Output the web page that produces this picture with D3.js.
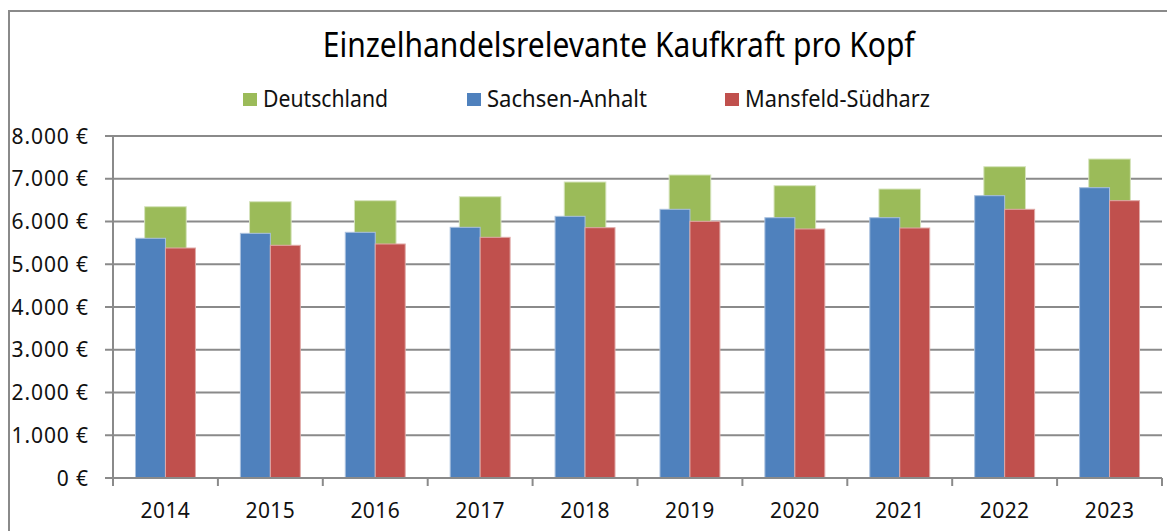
<!DOCTYPE html>
<html>
<head>
<meta charset="utf-8">
<script src="https://cdn.jsdelivr.net/npm/d3@7"></script>
<style>
  body { margin: 0; background: #fff; }
  svg { display: block; font-family: "Noto Sans", sans-serif; }
</style>
</head>
<body>
<div id="chart"></div>
<script>
// data
const years = ["2014", "2015", "2016", "2017", "2018", "2019", "2020", "2021", "2022", "2023"];
const deutschland = [6346, 6463, 6487, 6580, 6924, 7088, 6838, 6760, 7282, 7462];
const sachsenAnhalt = [5607, 5723, 5747, 5864, 6121, 6285, 6089, 6089, 6604, 6791];
const mansfeldSuedharz = [5380, 5443, 5474, 5630, 5855, 6004, 5825, 5848, 6285, 6487];
const yTicks = [0, 1000, 2000, 3000, 4000, 5000, 6000, 7000, 8000];
const seriesNames = ["Deutschland", "Sachsen-Anhalt", "Mansfeld-Südharz"];
const seriesColors = ["#9BBB59", "#4F81BD", "#C0504D"];

const width = 1167, height = 531;
const plot = { left: 113, right: 1162, top: 136, bottom: 478 };

const svg = d3.select("#chart").append("svg")
    .attr("width", width)
    .attr("height", height);

// outer frame (runs off the right and bottom edge)
svg.append("rect")
    .attr("x", 9).attr("y", 11)
    .attr("width", 1300).attr("height", 700)
    .attr("fill", "none")
    .attr("stroke", "#8a8a8a")
    .attr("stroke-width", 2);

const x = d3.scaleBand().domain(years).range([plot.left, plot.right]);
const xInner = d3.scaleBand().domain(["SA", "MS"]).range([0, x.bandwidth()]).paddingOuter(0.75);
const xBack = d3.scaleBand().domain(["DE"]).range([0, x.bandwidth()]).paddingOuter(0.76);
const y = d3.scaleLinear().domain([0, 8000]).range([plot.bottom, plot.top]);

// gridlines
svg.append("g")
    .selectAll("line")
    .data(yTicks)
    .enter().append("line")
    .attr("x1", plot.left - 8)
    .attr("x2", plot.right)
    .attr("y1", d => y(d))
    .attr("y2", d => y(d))
    .attr("stroke", "#8a8a8a")
    .attr("stroke-width", 2);

// y labels
svg.append("g")
    .selectAll("text")
    .data(yTicks)
    .enter().append("text")
    .attr("x", 89)
    .attr("y", d => y(d))
    .attr("dy", "0.36em")
    .attr("text-anchor", "end")
    .attr("font-size", 21)
    .attr("letter-spacing", 0.9)
    .attr("fill", "#111")
    .text(d => (d === 0 ? "0" : d3.format(",")(d).replace(",", ".")) + " €");

// Deutschland bars, behind
svg.append("g")
    .selectAll("rect")
    .data(deutschland)
    .enter().append("rect")
    .attr("x", (d, i) => x(years[i]) + xBack("DE"))
    .attr("y", d => y(d))
    .attr("width", xBack.bandwidth())
    .attr("height", d => y(0) - y(d))
    .attr("fill", seriesColors[0])
    .attr("stroke", "#d6e4bd")
    .attr("stroke-width", 1);

// Sachsen-Anhalt and Mansfeld-Südharz bars
const front = [
    { key: "SA", values: sachsenAnhalt, color: seriesColors[1], edge: "#a9c0de" },
    { key: "MS", values: mansfeldSuedharz, color: seriesColors[2], edge: "#e0a9a7" }
];
front.forEach(s => {
    svg.append("g")
        .selectAll("rect")
        .data(s.values)
        .enter().append("rect")
        .attr("x", (d, i) => x(years[i]) + xInner(s.key))
        .attr("y", d => y(d))
        .attr("width", xInner.bandwidth())
        .attr("height", d => y(0) - y(d))
        .attr("fill", s.color)
        .attr("stroke", s.edge)
        .attr("stroke-width", 1);
});

// axes lines
svg.append("line")
    .attr("x1", plot.left).attr("x2", plot.left)
    .attr("y1", plot.top).attr("y2", plot.bottom + 8)
    .attr("stroke", "#8a8a8a").attr("stroke-width", 2);
svg.append("line")
    .attr("x1", plot.left).attr("x2", plot.right)
    .attr("y1", plot.bottom).attr("y2", plot.bottom)
    .attr("stroke", "#8a8a8a").attr("stroke-width", 2);

// x ticks at category boundaries
svg.append("g")
    .selectAll("line")
    .data(years.concat(["end"]))
    .enter().append("line")
    .attr("x1", (d, i) => i < years.length ? x(d) : plot.right)
    .attr("x2", (d, i) => i < years.length ? x(d) : plot.right)
    .attr("y1", plot.bottom)
    .attr("y2", plot.bottom + 8)
    .attr("stroke", "#8a8a8a").attr("stroke-width", 2);

// x labels
svg.append("g")
    .selectAll("text")
    .data(years)
    .enter().append("text")
    .attr("x", d => x(d) + x.bandwidth() / 2)
    .attr("y", 518)
    .attr("text-anchor", "middle")
    .attr("font-size", 21)
    .attr("letter-spacing", 0.4)
    .attr("fill", "#111")
    .text(d => d);

// title
svg.append("text")
    .attr("x", 322.7)
    .attr("y", 56.7)
    .attr("font-size", 35)
    .attr("fill", "#000")
    .attr("textLength", 592)
    .attr("lengthAdjust", "spacingAndGlyphs")
    .text("Einzelhandelsrelevante Kaufkraft pro Kopf");

// legend
const legendPos = [
    { sx: 243, tx: 263, tw: 125 },
    { sx: 467, tx: 487, tw: 160 },
    { sx: 725, tx: 745, tw: 185 }
];
const legend = svg.append("g").attr("class", "legend");
legend.selectAll("rect")
    .data(seriesNames)
    .enter().append("rect")
    .attr("x", (d, i) => legendPos[i].sx)
    .attr("y", 93)
    .attr("width", 14)
    .attr("height", 13)
    .attr("fill", (d, i) => seriesColors[i]);
legend.selectAll("text")
    .data(seriesNames)
    .enter().append("text")
    .attr("x", (d, i) => legendPos[i].tx)
    .attr("y", 106.5)
    .attr("font-size", 23)
    .attr("fill", "#111")
    .attr("textLength", (d, i) => legendPos[i].tw)
    .attr("lengthAdjust", "spacingAndGlyphs")
    .text(d => d);
</script>
</body>
</html>
